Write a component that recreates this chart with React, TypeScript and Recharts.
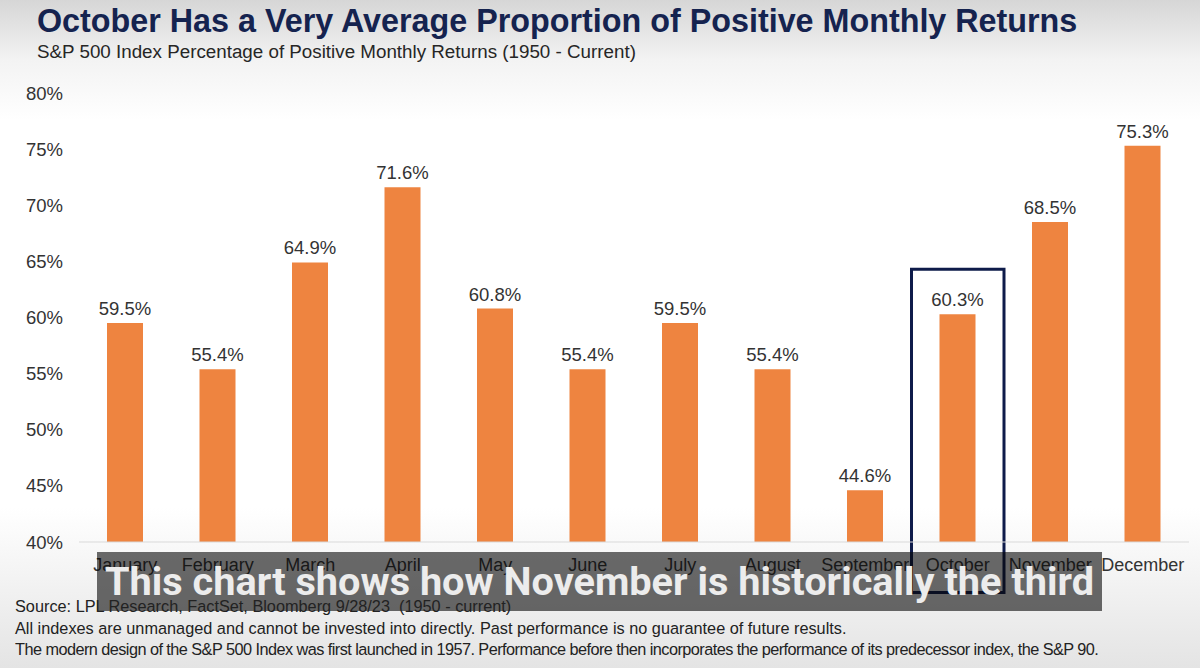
import { BarChart, Bar, XAxis, YAxis, LabelList, ReferenceArea } from 'recharts';

// S&P 500 share of positive monthly returns, 1950 - current
const months = [
  'January', 'February', 'March', 'April', 'May', 'June',
  'July', 'August', 'September', 'October', 'November', 'December',
];
const positivePct = [59.5, 55.4, 64.9, 71.6, 60.8, 55.4, 59.5, 55.4, 44.6, 60.3, 68.5, 75.3];
const yTicks = [40, 45, 50, 55, 60, 65, 70, 75, 80];

const highlightMonth = 'October';
const highlightTop = 64.3;
const highlightBottom = 35.5;

const data = months.map((month, i) => ({ month, value: positivePct[i] }));

const FONT = 'Arial, "Liberation Sans", sans-serif';

export default function App() {
  return (
    <div
      style={{
        position: 'absolute',
        top: 0,
        left: 0,
        width: 1200,
        height: 668,
        overflow: 'hidden',
        fontFamily: FONT,
        background:
          'linear-gradient(to bottom, #d6d6d6 0%, #f3f3f3 9%, #ffffff 18%, #ffffff 76%, #e4e4e4 100%)',
      }}
    >
      <div
        style={{
          position: 'absolute',
          left: 37,
          top: 3,
          fontSize: 32.3,
          fontWeight: 'bold',
          color: '#15234f',
          whiteSpace: 'nowrap',
        }}
      >
        October Has a Very Average Proportion of Positive Monthly Returns
      </div>
      <div
        style={{
          position: 'absolute',
          left: 37,
          top: 41,
          fontSize: 18.8,
          color: '#262626',
          whiteSpace: 'nowrap',
        }}
      >
        S&amp;P 500 Index Percentage of Positive Monthly Returns (1950 - Current)
      </div>

      <div style={{ position: 'absolute', left: 0, top: 0 }}>
        <BarChart
          width={1200}
          height={668}
          data={data}
          margin={{ top: 93, right: 11, bottom: 96, left: 9 }}
        >
          <XAxis
            dataKey="month"
            axisLine={{ stroke: '#d9d9d9' }}
            tickLine={false}
            tickSize={0}
            tickMargin={16}
            height={30}
            interval={0}
            tick={{ fontSize: 18, fill: '#333333', fontFamily: FONT }}
          />
          <YAxis
            domain={[40, 80]}
            ticks={yTicks}
            width={70}
            axisLine={false}
            tickLine={false}
            tickSize={0}
            tickMargin={16}
            tickFormatter={(v: number) => `${v}%`}
            tick={{ fontSize: 18.5, fill: '#333333', fontFamily: FONT }}
          />
          <Bar dataKey="value" fill="#ee8440" barSize={36} isAnimationActive={false}>
            <LabelList
              dataKey="value"
              position="top"
              offset={8}
              formatter={(v: number) => `${v.toFixed(1)}%`}
              style={{ fontSize: 18.5, fill: '#333333', fontFamily: FONT }}
            />
          </Bar>
          <ReferenceArea
            x1={highlightMonth}
            x2={highlightMonth}
            y1={highlightBottom}
            y2={highlightTop}
            ifOverflow="visible"
            fill="none"
            stroke="#0e1b4a"
            strokeWidth={3}
          />
        </BarChart>
      </div>

      {/* video subtitle overlay */}
      <div
        style={{
          position: 'absolute',
          left: 97,
          top: 552,
          width: 1005,
          height: 59,
          background: 'rgba(8,8,8,0.6)',
          color: '#ececec',
          fontFamily: 'Roboto, sans-serif',
          fontWeight: 700,
          fontSize: 39.7,
          lineHeight: '59px',
          textAlign: 'center',
          whiteSpace: 'nowrap',
        }}
      >
        This chart shows how November is historically the third
      </div>

      <div
        style={{
          position: 'absolute',
          left: 15,
          top: 596,
          fontSize: 16.3,
          lineHeight: '21.5px',
          color: '#222222',
          whiteSpace: 'nowrap',
        }}
      >
        <div>Source: LPL Research, FactSet, Bloomberg 9/28/23&nbsp; (1950 - current)</div>
        <div>All indexes are unmanaged and cannot be invested into directly. Past performance is no guarantee of future results.</div>
        <div style={{ letterSpacing: -0.55 }}>
          The modern design of the S&amp;P 500 Index was first launched in 1957. Performance before then incorporates the performance of its predecessor index, the S&amp;P 90.
        </div>
      </div>
    </div>
  );
}
